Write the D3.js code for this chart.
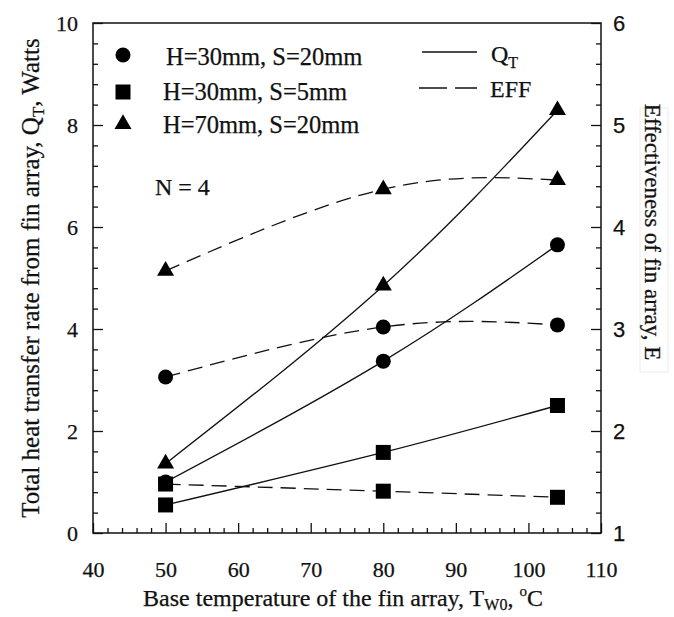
<!DOCTYPE html>
<html>
<head>
<meta charset="utf-8">
<script src="https://cdn.jsdelivr.net/npm/d3@7"></script>
<style>
  body { margin: 0; background: white; }
  text { font-family: "Liberation Serif", "Times New Roman", serif; fill: #111; stroke: #111; stroke-width: 0.25px; }
  .rightTick text { font-family: "Liberation Sans", Arial, sans-serif; }
</style>
</head>
<body>
<script>
// ! Data
const baseTemps = [50, 80, 104];
const seriesNames = ["H=30mm, S=20mm", "H=30mm, S=5mm", "H=70mm, S=20mm"];
const seriesSymbols = ["circle", "square", "triangle"];
// total heat transfer rate Q_T, Watts (left axis)
const qtH30S20 = [1.0, 3.37, 5.65];
const qtH30S5 = [0.55, 1.58, 2.5];
const qtH70S20 = [1.36, 4.85, 8.29];
// effectiveness E (right axis)
const effH30S20 = [2.53, 3.02, 3.04];
const effH30S5 = [1.48, 1.41, 1.35];
const effH70S20 = [3.57, 4.37, 4.46];

const xTicks = [40, 50, 60, 70, 80, 90, 100, 110];
const leftTicks = [0, 2, 4, 6, 8, 10];
const rightTicks = [1, 2, 3, 4, 5, 6];

// ! Size of the svg
const width = 674;
const height = 617;
const margin = { top: 23, right: 73, bottom: 84, left: 93 };

const svg = d3
  .select("body")
  .append("svg")
  .attr("width", width)
  .attr("height", height);

// ! Scales
const xScale = d3.scaleLinear().domain([40, 110]).range([margin.left, width - margin.right]);
const yLeft = d3.scaleLinear().domain([0, 10]).range([height - margin.bottom, margin.top]);
const yRight = d3.scaleLinear().domain([1, 6]).range([height - margin.bottom, margin.top]);

const x0 = margin.left;
const x1 = width - margin.right;
const y0 = height - margin.bottom;
const y1 = margin.top;

// minor ticks
const xMinor = d3.range(40, 110.01, 2).filter((d) => d % 10 !== 0);
const leftMinor = d3.range(0, 10.01, 0.4).filter((d) => Math.abs(d / 2 - Math.round(d / 2)) > 1e-6);
const rightMinor = d3.range(1, 6.01, 0.2).filter((d) => Math.abs(d - Math.round(d)) > 1e-6);

// ! Axes (ticks pointing inward)
const xAxisG = svg.append("g").attr("transform", `translate(0, ${y0})`);
xAxisG.call(d3.axisBottom(xScale).tickValues(xTicks).tickSize(-10).tickPadding(28).tickFormat(d3.format("d")));
xAxisG.append("g").call(d3.axisBottom(xScale).tickValues(xMinor).tickSize(-5).tickFormat(""));

const leftAxisG = svg.append("g").attr("transform", `translate(${x0}, 0)`);
leftAxisG.call(d3.axisLeft(yLeft).tickValues(leftTicks).tickSize(-10).tickPadding(15).tickFormat(d3.format("d")));
leftAxisG.append("g").call(d3.axisLeft(yLeft).tickValues(leftMinor).tickSize(-5).tickFormat(""));

const rightAxisG = svg.append("g").attr("class", "rightTick").attr("transform", `translate(${x1}, 0)`);
rightAxisG.call(d3.axisRight(yRight).tickValues(rightTicks).tickSize(-10).tickPadding(12).tickFormat(d3.format("d")));
rightAxisG.append("g").call(d3.axisRight(yRight).tickValues(rightMinor).tickSize(-5).tickFormat(""));

svg.selectAll(".domain").remove();
svg.selectAll(".tick line").attr("stroke", "#111").attr("stroke-width", 1.3);
svg.selectAll(".tick text").style("font-size", "22px").attr("fill", "#111");

// ! Frame
svg
  .append("rect")
  .attr("x", x0)
  .attr("y", y1)
  .attr("width", x1 - x0)
  .attr("height", y0 - y1)
  .attr("fill", "none")
  .attr("stroke", "#111")
  .attr("stroke-width", 1.5);

// ! Lines
const lineLeft = d3
  .line()
  .x((d, i) => xScale(baseTemps[i]))
  .y((d) => yLeft(d))
  .curve(d3.curveNatural);
const lineRight = d3
  .line()
  .x((d, i) => xScale(baseTemps[i]))
  .y((d) => yRight(d))
  .curve(d3.curveNatural);

const qtSeries = [qtH30S20, qtH30S5, qtH70S20];
const effSeries = [effH30S20, effH30S5, effH70S20];

qtSeries.forEach((s) => {
  svg
    .append("path")
    .attr("d", lineLeft(s))
    .attr("fill", "none")
    .attr("stroke", "#111")
    .attr("stroke-width", 1.3);
});
effSeries.forEach((s) => {
  svg
    .append("path")
    .attr("d", lineRight(s))
    .attr("fill", "none")
    .attr("stroke", "#111")
    .attr("stroke-width", 1.3)
    .attr("stroke-dasharray", "15,8");
});

// ! Markers
const symbolFor = {
  circle: d3.symbol().type(d3.symbolCircle).size(Math.PI * 7.5 * 7.5),
  square: d3.symbol().type(d3.symbolSquare).size(15 * 15),
  triangle: d3.symbol().type(d3.symbolTriangle).size((17 * 17 * Math.sqrt(3)) / 4),
};

seriesSymbols.forEach((sym, k) => {
  svg
    .append("g")
    .selectAll("path")
    .data(qtSeries[k])
    .enter()
    .append("path")
    .attr("d", symbolFor[sym])
    .attr("transform", (d, i) => `translate(${xScale(baseTemps[i])}, ${yLeft(d)})`)
    .attr("fill", "#000");
  svg
    .append("g")
    .selectAll("path")
    .data(effSeries[k])
    .enter()
    .append("path")
    .attr("d", symbolFor[sym])
    .attr("transform", (d, i) => `translate(${xScale(baseTemps[i])}, ${yRight(d)})`)
    .attr("fill", "#000");
});

// ! Legend for the series
const legendRows = [55, 92, 124];
const legendTextX = [166, 163, 163];
const legendBase = [65, 100, 133];
seriesNames.forEach((name, k) => {
  svg
    .append("path")
    .attr("d", symbolFor[seriesSymbols[k]])
    .attr("transform", `translate(123, ${legendRows[k]})`)
    .attr("fill", "#000");
  svg
    .append("text")
    .attr("x", legendTextX[k])
    .attr("y", legendBase[k])
    .style("font-size", "24.5px")
    .text(name);
});

// ! Legend for line styles
svg.append("line").attr("x1", 422).attr("x2", 477).attr("y1", 52).attr("y2", 52)
  .attr("stroke", "#111").attr("stroke-width", 1.3);
svg.append("line").attr("x1", 419).attr("x2", 477).attr("y1", 88).attr("y2", 88)
  .attr("stroke", "#111").attr("stroke-width", 1.3).attr("stroke-dasharray", "28,8");
const qtLabel = svg.append("text").attr("x", 491).attr("y", 62).style("font-size", "24px");
qtLabel.append("tspan").text("Q");
qtLabel.append("tspan").attr("dy", 6).style("font-size", "16px").text("T");
svg.append("text").attr("x", 490).attr("y", 97).style("font-size", "24px").text("EFF");

svg.append("text").attr("x", 155).attr("y", 195).style("font-size", "24px").text("N = 4");

// ! Axis titles
const xTitle = svg
  .append("text")
  .attr("x", (x0 + x1) / 2 - 4)
  .attr("y", 606)
  .attr("text-anchor", "middle")
  .style("font-size", "24px");
xTitle.append("tspan").text("Base temperature of the fin array, T");
xTitle.append("tspan").attr("dy", 4).style("font-size", "16px").text("W0");
xTitle.append("tspan").attr("dy", -4).text(", ");
xTitle.append("tspan").attr("dy", -10).style("font-size", "15px").text("o");
xTitle.append("tspan").attr("dy", 10).text("C");

const yTitle = svg
  .append("text")
  .attr("transform", `translate(39, ${(y0 + y1) / 2}) rotate(-90)`)
  .attr("text-anchor", "middle")
  .style("font-size", "25px");
yTitle.append("tspan").text("Total heat transfer rate from fin array, Q");
yTitle.append("tspan").attr("dy", 5).style("font-size", "17px").text("T");
yTitle.append("tspan").attr("dy", -5).text(", Watts");

svg
  .append("rect")
  .attr("x", 640)
  .attr("y", 108)
  .attr("width", 28)
  .attr("height", 264)
  .attr("fill", "none")
  .attr("stroke", "#ececec");
svg
  .append("text")
  .attr("transform", `translate(645, 232) rotate(90)`)
  .attr("text-anchor", "middle")
  .style("font-size", "23px")
  .text("Effectiveness of fin array, E");
</script>
</body>
</html>
